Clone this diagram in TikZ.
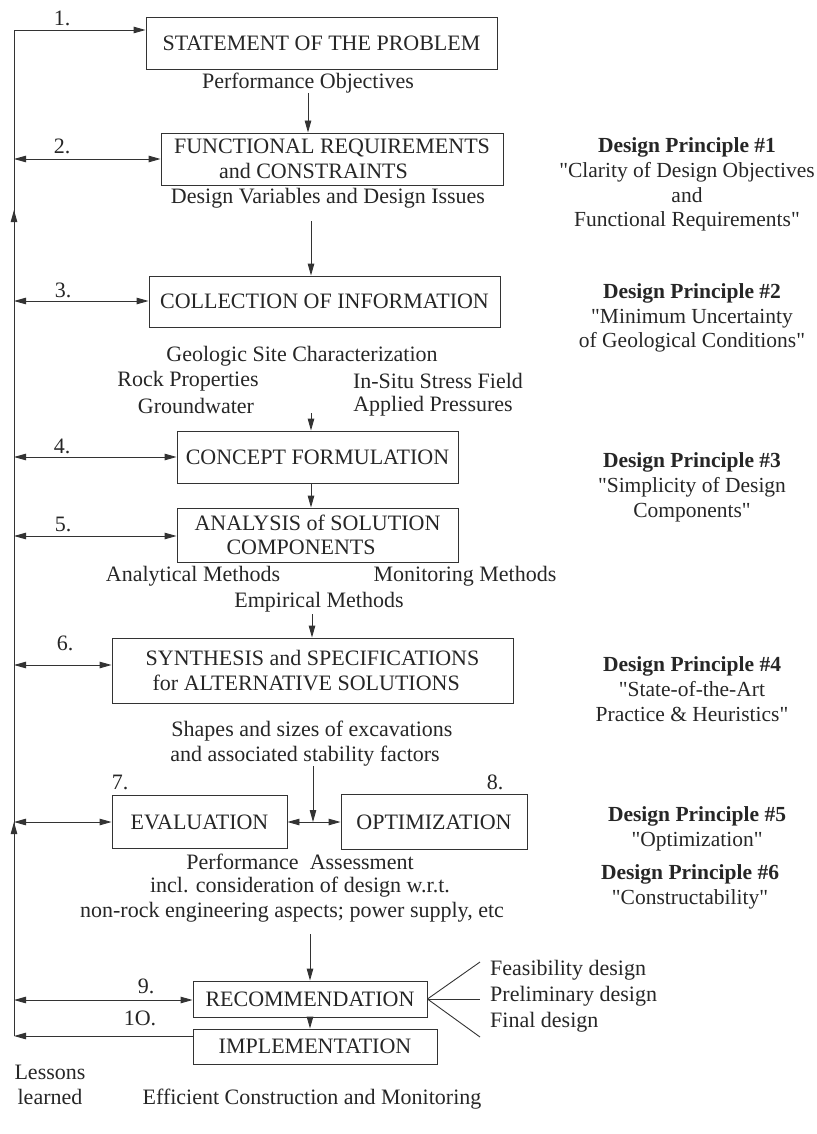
\documentclass[tikz,border=0pt]{standalone}
\usepackage{fontspec}
\newfontfamily\lib{Liberation Serif}
\usetikzlibrary{arrows.meta}
\begin{document}
\begin{tikzpicture}[x=1pt,y=-1pt,
  every node/.style={font=\lib\fontsize{22}{24.5}\selectfont, inner sep=0pt, align=center, text=black!85},
  box/.style={draw=black!80, line width=0.9pt},
  ln/.style={draw=black!80, line width=0.9pt},
  arr/.style={ln, -{Triangle[length=12pt,width=6.5pt]}},
  darr/.style={ln, {Triangle[length=12pt,width=6.5pt]}-{Triangle[length=12pt,width=6.5pt]}},
  dp/.style={font=\lib\fontsize{21.5}{24.7}\selectfont},
]
\useasboundingbox (0,0) rectangle (816,1134);

% ---------- boxes ----------
\node[box, minimum width=351pt, minimum height=52pt] (b1) at (321.5,43) {STATEMENT OF THE PROBLEM};
\node[box, minimum width=342pt, minimum height=52pt, align=left] (b2) at (332,159) {FUNCTIONAL REQUIREMENTS\\\hspace*{45pt}and CONSTRAINTS};
\node[box, minimum width=351pt, minimum height=51pt] (b3) at (324.5,301.5) {COLLECTION OF INFORMATION};
\node[box, minimum width=281pt, minimum height=52pt] (b4) at (317.5,457) {CONCEPT FORMULATION};
\node[box, minimum width=281pt, minimum height=54pt, align=left] (b5) at (317.5,535) {ANALYSIS of SOLUTION\\\hspace*{32pt}COMPONENTS};
\node[box, minimum width=401pt, minimum height=65pt, align=left] (b6) at (312.5,670.5) {SYNTHESIS and SPECIFICATIONS\\\hspace*{7pt}for ALTERNATIVE SOLUTIONS};
\node[box, minimum width=175pt, minimum height=53pt] (b7) at (199.5,822) {EVALUATION};
\node[box, minimum width=186pt, minimum height=55pt] (b8) at (434,822) {OPTIMIZATION};
\node[box, minimum width=234pt, minimum height=36pt] (b9) at (310,999) {RECOMMENDATION};
\node[box, minimum width=244pt, minimum height=35pt] (b10) at (315,1046.5) {IMPLEMENTATION};

% ---------- texts under boxes ----------
\node (t1) at (308,83) {Performance Objectives};
\node (t2) at (328,198) {Design Variables and Design Issues};
\node (t3a) at (302,356) {Geologic Site Characterization};
\node (t3b) at (188,381) {Rock Properties};
\node (t3c) at (438,381) {In-Situ Stress Field};
\node (t3d) at (196,406) {Groundwater};
\node (t3e) at (433,406) {Applied Pressures};
\node (t5a) at (193,576) {Analytical Methods};
\node (t5b) at (465,576) {Monitoring Methods};
\node (t5c) at (319,602) {Empirical Methods};
\node (t6a) at (312,731) {Shapes and sizes of excavations};
\node (t6b) at (305,756) {and associated stability factors};
\node (t7a) at (300,862) {Performance\ \ Assessment};
\node (t7b) at (300,887) {incl. consideration of design w.r.t.};
\node (t7c) at (292,912) {non-rock engineering aspects; power supply, etc};
\node[anchor=west] (f1t) at (490,970) {Feasibility design};
\node[anchor=west] (f2t) at (490,996) {Preliminary design};
\node[anchor=west] (f3t) at (490,1022) {Final design};
\node (t10) at (312,1099) {Efficient Construction and Monitoring};
\node (ll) at (50,1085) {Lessons\\learned};

% ---------- step numbers ----------
\node (n1) at (62,18) {1.};
\node (n2) at (62,146) {2.};
\node (n3) at (63,290) {3.};
\node (n4) at (62,446) {4.};
\node (n5) at (63,524) {5.};
\node (n6) at (65,643) {6.};
\node (n7) at (120,782) {7.};
\node (n8) at (495,782) {8.};
\node (n9) at (146,986) {9.};
\node (n10) at (140,1018) {1O.};

% ---------- design principles ----------
\node[dp] (d1) at (687,184.5) {\textbf{Design Principle \#1}\\"Clarity of Design Objectives\\and\\Functional Requirements"};
\node[dp] (d2) at (692,318) {\textbf{Design Principle \#2}\\"Minimum Uncertainty\\of Geological Conditions"};
\node[dp] (d3) at (692,487.5) {\textbf{Design Principle \#3}\\"Simplicity of Design\\Components"};
\node[dp] (d4) at (692,689) {\textbf{Design Principle \#4}\\"State-of-the-Art\hspace*{22pt}\\Practice \& Heuristics"};
\node[dp] (d5) at (697,828.5) {\textbf{Design Principle \#5}\\"Optimization"};
\node[dp] (d6) at (690,887) {\textbf{Design Principle \#6}\\"Constructability"};

% ---------- left feedback line coordinates ----------
\coordinate (l1) at (14,30);
\coordinate (l2) at (14,159);
\coordinate (up1) at (14,210);
\coordinate (l3) at (14,301);
\coordinate (l4) at (14,457);
\coordinate (l5) at (14,536);
\coordinate (l6) at (14,665);
\coordinate (l7) at (14,822);
\coordinate (l9) at (14,1000);
\coordinate (l10) at (14,1036);

\draw[ln] (l10) -- (l7);
\draw[arr] (l9) -- (l7);
\draw[ln] (l7) -- (up1);
\draw[arr] (l3) -- (up1);
\draw[ln] (up1) -- (l1);
\draw[arr] (l1) -- (l1 -| b1.west);
\draw[darr] (l2) -- (l2 -| b2.west);
\draw[darr] (l3) -- (l3 -| b3.west);
\draw[darr] (l4) -- (l4 -| b4.west);
\draw[darr] (l5) -- (l5 -| b5.west);
\draw[darr] (l6) -- (l6 -| b6.west);
\draw[darr] (l7) -- (b7.west);
\draw[darr] (l9) -- (l9 -| b9.west);
\draw[arr] (l10 -| b10.west) -- (l10);

% ---------- vertical flow arrows ----------
\coordinate (s1) at (308,93);
\draw[arr] (s1) -- (s1 |- b2.north);
\coordinate (s2) at (311,221);
\draw[arr] (s2) -- (s2 |- b3.north);
\coordinate (s3) at (311,413);
\draw[arr] (s3) -- (s3 |- b4.north);
\draw[arr] (b4.south -| s3) -- (s3 |- b5.north);
\coordinate (s5) at (312,614);
\draw[arr] (s5) -- (s5 |- b6.north);
\coordinate (s6) at (313,766);
\coordinate (j) at (313,822);
\draw[arr] (s6) -- (j);
\draw[arr] (j) -- (b7.east);
\draw[arr] (j) -- (b8.west);
\coordinate (s8) at (310,934);
\draw[arr] (s8) -- (s8 |- b9.north);
\draw[arr] (b9.south -| s8) -- (s8 |- b10.north);

% ---------- fan from recommendation ----------
\coordinate (f1) at (480,962);
\coordinate (f2) at (480,999);
\coordinate (f3) at (480,1037);
\draw[ln] (b9.east) -- (f1);
\draw[ln] (b9.east) -- (f2);
\draw[ln] (b9.east) -- (f3);
\end{tikzpicture}
\end{document}
